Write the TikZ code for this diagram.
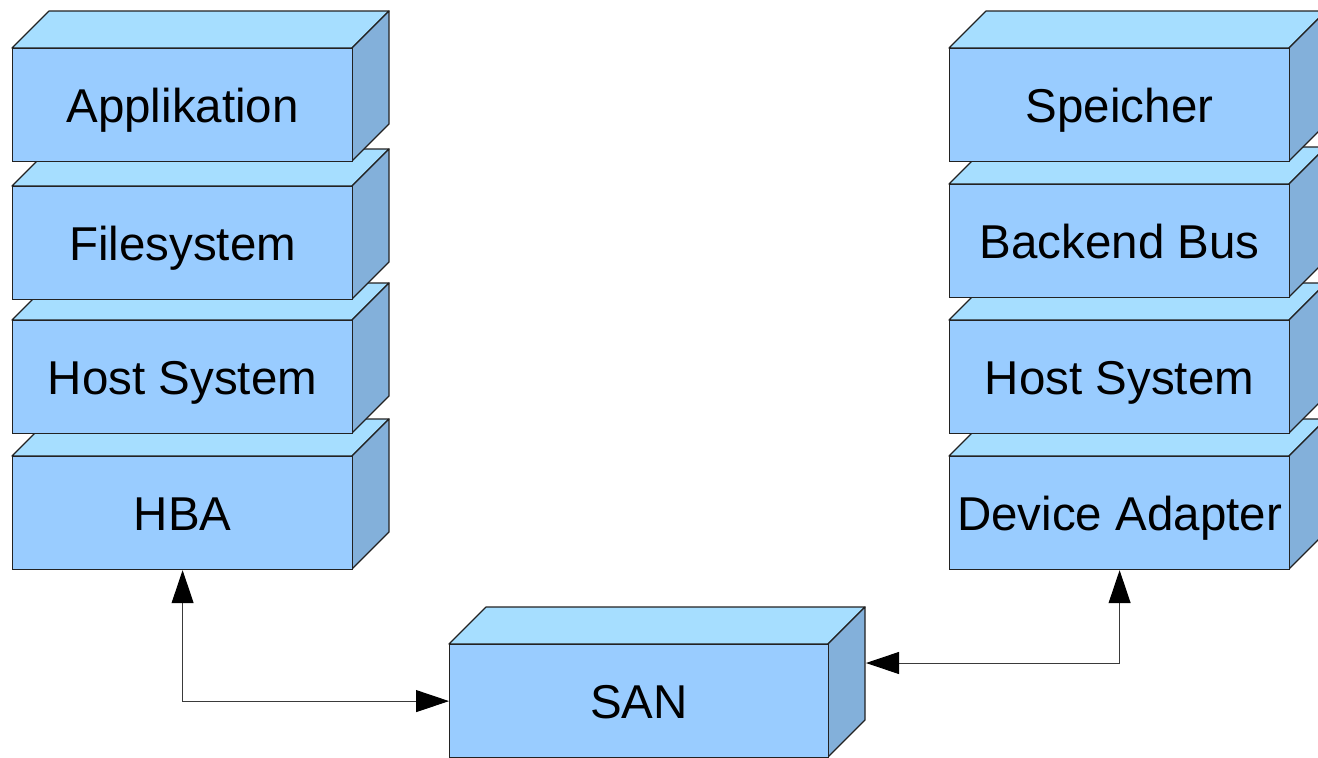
\documentclass[tikz,border=0pt]{standalone}
\usepackage{fontspec}
\setmainfont{Liberation Sans}
\usetikzlibrary{arrows.meta}

\definecolor{facefront}{HTML}{99CCFF}
\definecolor{facetop}{HTML}{A6DEFF}
\definecolor{faceside}{HTML}{83B0DA}
\definecolor{edge}{HTML}{222222}
\definecolor{wire}{HTML}{3A3A3A}

\tikzset{
  front/.style={draw=edge, fill=facefront, line width=1.2pt, inner sep=0pt,
    anchor=north west, font=\fontsize{47.5}{57}\selectfont,
    text height=34pt, text depth=0pt},
  topface/.style={draw=edge, fill=facetop, line width=1.2pt, line join=round},
  sideface/.style={draw=edge, fill=faceside, line width=1.2pt, line join=round},
  wirelink/.style={draw=wire, line width=1pt, {Triangle[length=33pt, width=22pt, color=black]}-{Triangle[length=33pt, width=22pt, color=black]}}
}

% cuboid: name, left, top, width, height, label (front face is the named node)
\newcommand\layerbox[6]{%
  \path[topface] (#2,#3) -- ++(37,-37) -- ++(#4,0) -- ++(-37,37) -- cycle;
  \path[sideface] (#2+#4,#3) -- ++(37,-37) -- ++(0,#5) -- ++(-37,37) -- cycle;
  \node[front, minimum width=#4pt, minimum height=#5pt] (#1) at (#2,#3) {#6};
}

\begin{document}
\begin{tikzpicture}[x=1pt, y=-1pt]
  \useasboundingbox (0,0) rectangle (1318,758);
  \clip (0,0) rectangle (1318,758);

  % host side stack, drawn from the bottom layer up
  \layerbox{hba}{12}{456}{340}{113}{HBA}
  \layerbox{hostL}{12}{320}{340}{113}{Host System}
  \layerbox{fs}{12}{186}{340}{113}{Filesystem}
  \layerbox{app}{12}{48}{340}{113}{Applikation}

  % storage side stack
  \layerbox{da}{949}{456}{340}{113}{Device Adapter}
  \layerbox{hostR}{949}{320}{340}{113}{Host System}
  \layerbox{bus}{949}{184}{340}{113}{Backend Bus}
  \layerbox{mem}{949}{48}{340}{113}{Speicher}

  % network
  \layerbox{san}{449}{644}{379}{113}{SAN}

  % connections
  \coordinate (sanport) at (866,663);
  \draw[wirelink] (hba.south) |- (san.west);
  \draw[wirelink] (sanport) -| (da.south);
\end{tikzpicture}
\end{document}
